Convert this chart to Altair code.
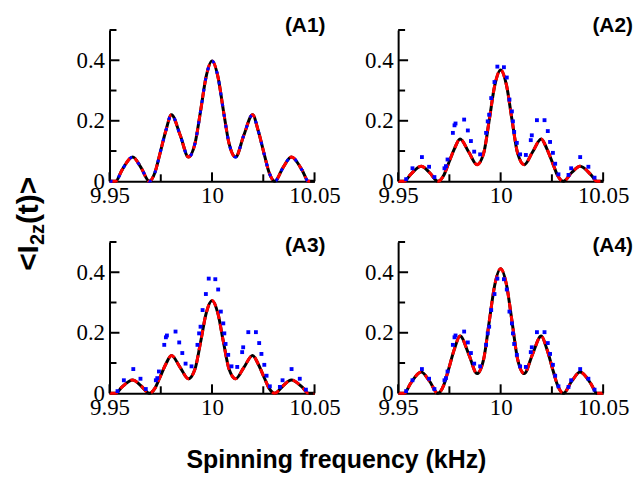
import altair as alt
import pandas as pd

# ---- data ----
freq = [9.950, 9.953, 9.956, 9.9613, 9.9653, 9.9694, 9.9722, 9.9743, 9.9775, 9.9802,
        9.9845, 9.9885, 9.9917, 9.9945, 9.9971, 10.000,
        10.0029, 10.0055, 10.0083, 10.0115, 10.0155, 10.0198, 10.0225, 10.0257, 10.0278,
        10.0306, 10.0347, 10.0387, 10.044, 10.047, 10.050]

I_A1 = [0, 0, 0.036, 0.080, 0.046, 0, 0.030, 0.083, 0.168, 0.220, 0.152, 0.080, 0.125, 0.236, 0.345, 0.398,
        0.345, 0.236, 0.125, 0.080, 0.152, 0.220, 0.168, 0.083, 0.030, 0, 0.046, 0.080, 0.036, 0, 0]
I_A2 = [0, 0, 0.022, 0.050, 0.029, 0, 0.019, 0.054, 0.108, 0.140, 0.096, 0.055, 0.092, 0.205, 0.316, 0.368,
        0.316, 0.205, 0.092, 0.055, 0.096, 0.140, 0.108, 0.054, 0.019, 0, 0.029, 0.050, 0.022, 0, 0]
I_A3 = [0, 0, 0.020, 0.044, 0.025, 0, 0.017, 0.048, 0.097, 0.125, 0.085, 0.048, 0.080, 0.172, 0.263, 0.307,
        0.263, 0.172, 0.080, 0.048, 0.085, 0.125, 0.097, 0.048, 0.017, 0, 0.025, 0.044, 0.020, 0, 0]
I_A4 = [0, 0, 0.032, 0.070, 0.040, 0, 0.026, 0.072, 0.147, 0.189, 0.128, 0.065, 0.112, 0.240, 0.357, 0.412,
        0.357, 0.240, 0.112, 0.065, 0.128, 0.189, 0.147, 0.072, 0.026, 0, 0.040, 0.070, 0.032, 0, 0]

blue_freq = [9.9539, 9.957, 9.9616, 9.9651, 9.9677, 9.9726, 9.9733, 9.9741, 9.9767, 9.9775, 9.978,
             9.9822, 9.984, 9.9855, 9.9871, 9.990, 9.9929, 9.9937, 9.9944, 9.9954, 9.997, 9.9984,
             10.0016, 10.003, 10.0043, 10.0055, 10.006, 10.0066, 10.0079, 10.0095, 10.0123, 10.0147,
             10.0152, 10.0177, 10.0214, 10.023, 10.0241, 10.0255, 10.0266, 10.0282, 10.0331, 10.0344,
             10.0388, 10.0428, 10.0458]
blue_I = [0.007, 0.043, 0.080, 0.048, 0.014, 0.043, 0.050, 0.072, 0.160, 0.185, 0.191,
          0.204, 0.168, 0.133, 0.098, 0.089, 0.160, 0.198, 0.220, 0.275, 0.328, 0.379,
          0.377, 0.343, 0.270, 0.231, 0.198, 0.163, 0.127, 0.089, 0.087, 0.136,
          0.152, 0.202, 0.202, 0.166, 0.130, 0.094, 0.058, 0.023, 0.021, 0.043,
          0.080, 0.048, 0.012]

x_major = [9.95, 10.0, 10.05]
x_minor = [9.975, 10.025]
y_major = [0.0, 0.2, 0.4]
y_minor = [0.1, 0.3, 0.5]
panel_labels = ["(A1)", "(A2)", "(A3)", "(A4)"]
y_title_parts = ["<I", "2z", "(t)>"]
x_title = "Spinning frequency (kHz)"

W, H = 206, 152

xscale = alt.Scale(domain=[9.95, 10.05], nice=False, zero=False)
yscale = alt.Scale(domain=[0, 0.5], nice=False, zero=False)

axis_common = dict(ticks=False, grid=False, domainColor="black", domainWidth=2,
                   labelFont="Liberation Serif", labelFontSize=23, labelColor="black",
                   labelOverlap=False, labelFlush=False)
xaxis = alt.Axis(values=x_major, labelPadding=3,
                 labelExpr="datum.value == 10 ? '10' : format(datum.value, '.2f')", **axis_common)
yaxis = alt.Axis(values=y_major, labelPadding=5,
                 labelExpr="datum.value == 0 ? '0' : format(datum.value, '.1f')", **axis_common)

X = alt.X("f:Q", scale=xscale, axis=xaxis, title=None)
Y = alt.Y("I:Q", scale=yscale, axis=yaxis, title=None)


def panel(I, label, label_dx, label_dy, dotted_blue, extra):
    base = alt.Chart(pd.DataFrame({"f": freq, "I": I}))
    black = base.mark_line(color="black", strokeWidth=3, interpolate="monotone").encode(x=X, y=Y)
    red = base.mark_line(color="#ff0000", strokeWidth=3, strokeDash=[8, 5],
                         interpolate="monotone").encode(x=X, y=Y)
    if dotted_blue:
        blue = base.mark_line(color="#0000ff", strokeWidth=3, strokeDash=[3, 8],
                              interpolate="monotone").encode(x=X, y=Y)
    else:
        blue = alt.Chart(pd.DataFrame({"f": blue_freq, "I": blue_I})).mark_square(
            color="#0000ff", size=15, opacity=1).encode(x=X, y=Y)
    xt_maj = alt.Chart(pd.DataFrame({"f": x_major})).mark_rule(color="black", strokeWidth=2).encode(
        x=X, y=alt.value(H), y2=alt.value(H - 9))
    xt_min = alt.Chart(pd.DataFrame({"f": x_minor})).mark_rule(color="black", strokeWidth=2).encode(
        x=X, y=alt.value(H), y2=alt.value(H - 7))
    yt_maj = alt.Chart(pd.DataFrame({"I": y_major[1:]})).mark_rule(color="black", strokeWidth=2).encode(
        y=Y, x=alt.value(0), x2=alt.value(10))
    yt_min = alt.Chart(pd.DataFrame({"I": y_minor})).mark_rule(color="black", strokeWidth=2).encode(
        y=Y, x=alt.value(0), x2=alt.value(7))
    lab = alt.Chart(pd.DataFrame({"t": [label]})).mark_text(
        font="Liberation Sans", fontWeight="bold", fontSize=21, align="right",
        baseline="middle", color="black").encode(text="t:N", x=alt.value(W + label_dx),
                                                 y=alt.value(label_dy))
    return alt.layer(black, red, blue, xt_maj, xt_min, yt_maj, yt_min, lab, *extra).properties(
        width=W, height=H)


def txt(s, x, y, size, angle=0, align="left", baseline="alphabetic"):
    return alt.Chart(pd.DataFrame({"t": [s]})).mark_text(
        font="Liberation Sans", fontWeight="bold", fontSize=size, angle=angle, align=align,
        baseline=baseline, color="black").encode(text="t:N", x=alt.value(x), y=alt.value(y))


ytitle = [txt(y_title_parts[0], -72, 242, 30, angle=270),
          txt(y_title_parts[1], -66, 216, 20, angle=270),
          txt(y_title_parts[2], -72, 195, 30, angle=270)]
xtitle = [txt(x_title, 228, 227, 25, align="center")]

p1 = panel(I_A1, panel_labels[0], 11, -4, True, ytitle)
p2 = panel(I_A2, panel_labels[1], 30, -4, False, [])
p3 = panel(I_A3, panel_labels[2], 11, 4, False, xtitle)
p4 = panel(I_A4, panel_labels[3], 30, 4, False, [])

chart = alt.concat(p1, p2, p3, p4, columns=2, spacing={"row": 61, "column": 84},
                   bounds="flush").properties(
    padding={"left": 5, "top": 5, "right": 0, "bottom": 0}
).configure_view(stroke="transparent")

chart.save("out.html", embed_options={"renderer": "svg", "actions": False})
